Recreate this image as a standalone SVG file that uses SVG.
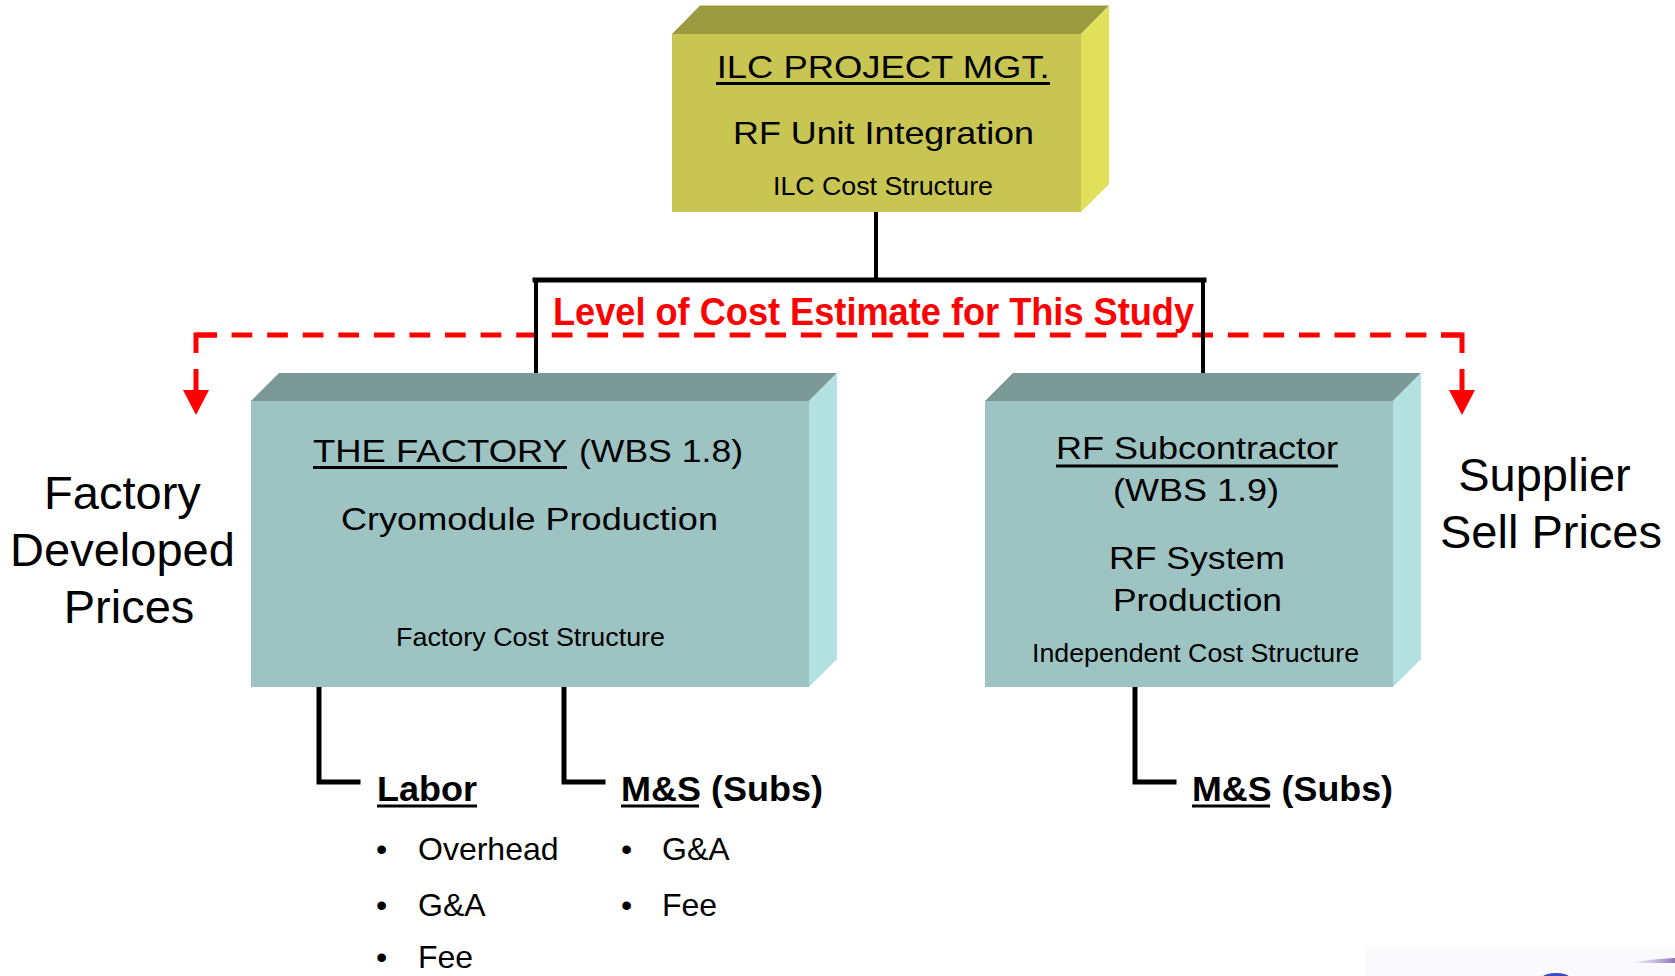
<svg xmlns="http://www.w3.org/2000/svg" width="1675" height="976" viewBox="0 0 1675 976">
  <defs>
    <style>
      .t { font-family: "Liberation Sans", Arial, sans-serif; fill: #000; }
      .b { font-weight: bold; }
      .ul { stroke: #000; stroke-width: 3; }
      .wire { fill: none; stroke: #000; stroke-width: 4; stroke-linecap: square; }
      .wire5 { fill: none; stroke: #000; stroke-width: 5; stroke-linecap: square; }
      .red { fill: none; stroke: #ff0000; stroke-width: 5; }
      .redfill { fill: #ff0000; }
      .yFront { fill: #c8c553; }
      .yTop { fill: #9a9a3e; }
      .ySide { fill: #e0e05b; }
      .gFront { fill: #9dc3c3; }
      .gTop { fill: #7a9896; }
      .gSide { fill: #b3e0e0; }
    </style>
    <linearGradient id="streak" x1="0" y1="0" x2="1" y2="0">
      <stop offset="0" stop-color="#b8a8d8" stop-opacity="0"/>
      <stop offset="1" stop-color="#8a72b8"/>
    </linearGradient>
  </defs>

  <rect width="1675" height="976" fill="#ffffff"/>

  <!-- corner of a logo strip at the bottom edge -->
  <g id="logo-edge">
    <rect x="1365" y="947" width="310" height="29" fill="#fafafc"/>
    <ellipse cx="1556" cy="977" rx="13" ry="4" fill="#3a4cc8"/>
    <path d="M1628,963 Q1650,959 1675,958 L1675,963 Q1650,963 1628,963 Z" fill="url(#streak)"/>
  </g>

  <!-- dashed study-level bracket with arrows -->
  <g id="study-level">
    <path class="red" d="M196,335 H1462" stroke-dasharray="20.7 14.88"/>
    <path class="red" d="M196,353 V335 H217"/>
    <path class="red" d="M1441,335 H1462 V353"/>
    <path class="red" d="M196,369 V392"/>
    <path class="red" d="M1462,369 V392"/>
    <polygon class="redfill" points="183,390 209,390 196,415"/>
    <polygon class="redfill" points="1449,390 1475,390 1462,415"/>
    <text class="t b" x="553" y="325" font-size="39" style="fill:#ff0000" textLength="641" lengthAdjust="spacingAndGlyphs">Level of Cost Estimate for This Study</text>
  </g>

  <!-- tree connectors -->
  <g id="connectors">
    <path class="wire" d="M876,212 V280"/>
    <path class="wire5" d="M535,280 H1204"/>
    <path class="wire" d="M536,280 V387"/>
    <path class="wire" d="M1203,280 V387"/>
    <path class="wire5" d="M319,689 V782 H358"/>
    <path class="wire5" d="M564,689 V782 H603"/>
    <path class="wire5" d="M1135,689 V782 H1174"/>
  </g>

  <!-- top node -->
  <g id="node-ilc">
    <polygon class="yTop" points="672,34 700,5.5 1109,5.5 1081,34"/>
    <polygon class="ySide" points="1081,34 1109,5.5 1109,184 1081,212"/>
    <rect class="yFront" x="672" y="34" width="409" height="178"/>
    <text class="t" x="716.7" y="78" font-size="32" textLength="333" lengthAdjust="spacingAndGlyphs">ILC PROJECT MGT.</text>
    <line class="ul" x1="716" y1="83.5" x2="1050" y2="83.5"/>
    <text class="t" x="733" y="144" font-size="32" textLength="301" lengthAdjust="spacingAndGlyphs">RF Unit Integration</text>
    <text class="t" x="773" y="195" font-size="25" textLength="220" lengthAdjust="spacingAndGlyphs">ILC Cost Structure</text>
  </g>

  <!-- factory node -->
  <g id="node-factory">
    <polygon class="gTop" points="251,401 279,373 837,373 809,401"/>
    <polygon class="gSide" points="809,401 837,373 837,659 809,687"/>
    <rect class="gFront" x="251" y="401" width="558" height="286"/>
    <text class="t" x="313" y="462" font-size="32" textLength="254" lengthAdjust="spacingAndGlyphs">THE FACTORY</text>
    <line class="ul" x1="313" y1="467.5" x2="567" y2="467.5"/>
    <text class="t" x="579" y="462" font-size="32" textLength="164" lengthAdjust="spacingAndGlyphs">(WBS 1.8)</text>
    <text class="t" x="341" y="530" font-size="32" textLength="377" lengthAdjust="spacingAndGlyphs">Cryomodule Production</text>
    <text class="t" x="396" y="646" font-size="25" textLength="269" lengthAdjust="spacingAndGlyphs">Factory Cost Structure</text>
  </g>

  <!-- RF subcontractor node -->
  <g id="node-rf">
    <polygon class="gTop" points="985,401 1013,373 1421,373 1393,401"/>
    <polygon class="gSide" points="1393,401 1421,373 1421,659 1393,687"/>
    <rect class="gFront" x="985" y="401" width="408" height="286"/>
    <text class="t" x="1056" y="459" font-size="32" textLength="282" lengthAdjust="spacingAndGlyphs">RF Subcontractor</text>
    <line class="ul" x1="1056" y1="466" x2="1338" y2="466"/>
    <text class="t" x="1113" y="501" font-size="32" textLength="166" lengthAdjust="spacingAndGlyphs">(WBS 1.9)</text>
    <text class="t" x="1109" y="569" font-size="32" textLength="176" lengthAdjust="spacingAndGlyphs">RF System</text>
    <text class="t" x="1113" y="611" font-size="32" textLength="169" lengthAdjust="spacingAndGlyphs">Production</text>
    <text class="t" x="1032" y="662" font-size="25" textLength="327" lengthAdjust="spacingAndGlyphs">Independent Cost Structure</text>
  </g>

  <!-- side labels -->
  <g id="label-factory-prices">
    <text class="t" text-anchor="middle" font-size="47">
      <tspan x="129" y="509">Factory</tspan>
      <tspan x="129" y="566">Developed</tspan>
      <tspan x="129" y="623">Prices</tspan>
    </text>
  </g>
  <g id="label-supplier-prices">
    <text class="t" text-anchor="middle" font-size="47">
      <tspan x="1551" y="491">Supplier</tspan>
      <tspan x="1551" y="548">Sell Prices</tspan>
    </text>
  </g>

  <!-- factory cost elements -->
  <g id="node-labor">
    <text class="t b" x="377" y="801" font-size="35" textLength="100" lengthAdjust="spacingAndGlyphs">Labor</text>
    <line class="ul" x1="377" y1="806" x2="477" y2="806"/>
    <text class="t" font-size="32">
      <tspan x="376" y="860">•</tspan>
      <tspan x="418" y="860">Overhead</tspan>
      <tspan x="376" y="916">•</tspan>
      <tspan x="418" y="916">G&amp;A</tspan>
      <tspan x="376" y="968">•</tspan>
      <tspan x="418" y="968">Fee</tspan>
    </text>
  </g>
  <g id="node-ms-factory">
    <text class="t b" x="621" y="801" font-size="35" textLength="202" lengthAdjust="spacingAndGlyphs">M&amp;S (Subs)</text>
    <line class="ul" x1="621" y1="806" x2="699" y2="806"/>
    <text class="t" font-size="32">
      <tspan x="621" y="860">•</tspan>
      <tspan x="662" y="860">G&amp;A</tspan>
      <tspan x="621" y="916">•</tspan>
      <tspan x="662" y="916">Fee</tspan>
    </text>
  </g>

  <!-- RF cost element -->
  <g id="node-ms-rf">
    <text class="t b" x="1192" y="801" font-size="35" textLength="201" lengthAdjust="spacingAndGlyphs">M&amp;S (Subs)</text>
    <line class="ul" x1="1192" y1="806" x2="1270" y2="806"/>
  </g>
</svg>
